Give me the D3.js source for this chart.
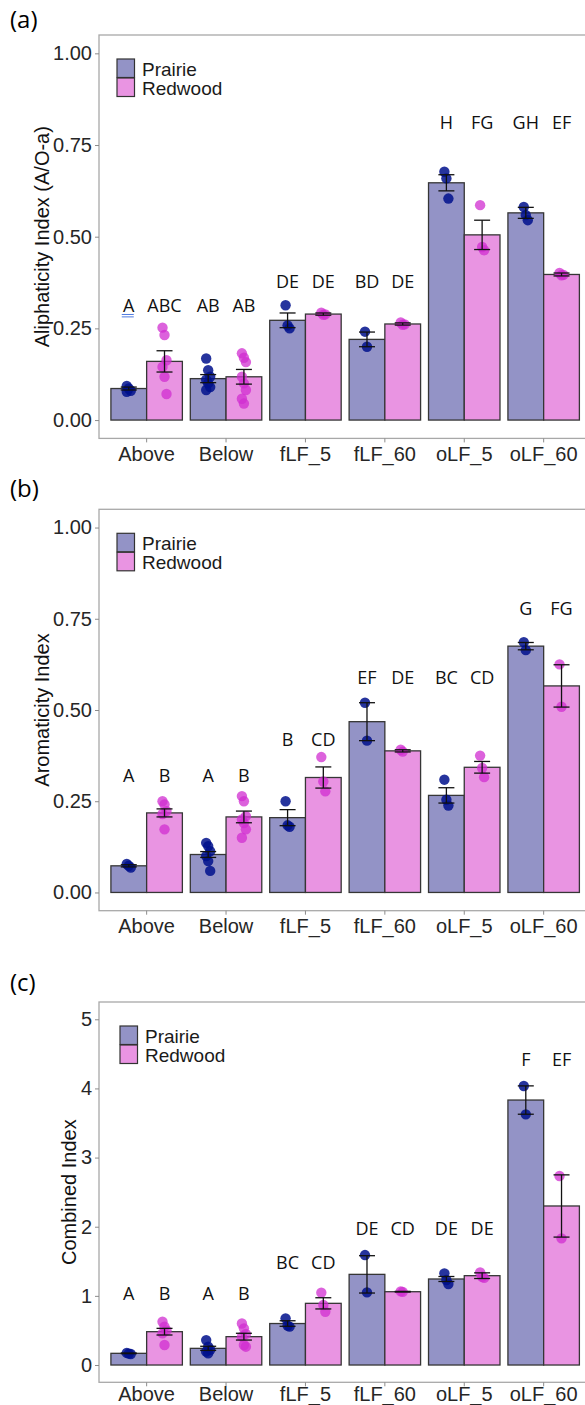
<!DOCTYPE html>
<html>
<head>
<meta charset="utf-8">
<script src="https://cdn.jsdelivr.net/npm/d3@7"></script>
<style>
  body { margin: 0; background: #fff; }
  svg { display: block; }
</style>
</head>
<body>
<svg id="chart" width="585" height="1405"></svg>
<script>

// ===========
// DATA
// ===========

const categories = ["Above", "Below", "fLF_5", "fLF_60", "oLF_5", "oLF_60"];
const groups = ["Prairie", "Redwood"];

// (a) Aliphaticity
const aliPrairieMean = [0.086, 0.113, 0.272, 0.220, 0.647, 0.565];
const aliPrairieSE   = [0.004, 0.011, 0.020, 0.020, 0.022, 0.015];
const aliRedwoodMean = [0.160, 0.118, 0.289, 0.262, 0.505, 0.397];
const aliRedwoodSE   = [0.029, 0.020, 0.003, 0.003, 0.040, 0.004];
const aliPrairiePts = [
  [0.093, 0.086, 0.080, 0.077],
  [0.168, 0.136, 0.118, 0.110, 0.100, 0.090, 0.082],
  [0.313, 0.258, 0.250],
  [0.241, 0.200],
  [0.677, 0.659, 0.604],
  [0.581, 0.559, 0.545]
];
const aliRedwoodPts = [
  [0.252, 0.232, 0.163, 0.145, 0.118, 0.071],
  [0.182, 0.170, 0.158, 0.118, 0.100, 0.082, 0.058, 0.045],
  [0.293, 0.287, 0.288],
  [0.266, 0.260, 0.261],
  [0.586, 0.472, 0.463],
  [0.401, 0.395, 0.396]
];
const aliLettersPrairie = ["A", "AB", "DE", "BD", "H", "GH"];
const aliLettersRedwood = ["ABC", "AB", "DE", "DE", "FG", "EF"];
const aliLetterY = [0.295, 0.295, 0.36, 0.36, 0.793, 0.793];

// (b) Aromaticity
const aroPrairieMean = [0.073, 0.104, 0.205, 0.468, 0.266, 0.675];
const aroPrairieSE   = [0.003, 0.008, 0.022, 0.052, 0.021, 0.010];
const aroRedwoodMean = [0.218, 0.207, 0.315, 0.388, 0.343, 0.566];
const aroRedwoodSE   = [0.011, 0.016, 0.029, 0.003, 0.016, 0.058];
const aroPrairiePts = [
  [0.078, 0.073, 0.068],
  [0.136, 0.127, 0.113, 0.100, 0.086, 0.059],
  [0.250, 0.184, 0.180],
  [0.520, 0.416],
  [0.309, 0.254, 0.238],
  [0.686, 0.664]
];
const aroRedwoodPts = [
  [0.250, 0.241, 0.223, 0.215, 0.173],
  [0.264, 0.250, 0.209, 0.200, 0.190, 0.173, 0.150],
  [0.371, 0.304, 0.277],
  [0.391, 0.386],
  [0.375, 0.341, 0.316],
  [0.625, 0.509]
];
const aroLettersPrairie = ["A", "A", "B", "EF", "BC", "G"];
const aroLettersRedwood = ["B", "B", "CD", "DE", "CD", "FG"];
const aroLetterY = [0.302, 0.302, 0.40, 0.571, 0.571, 0.759];

// (c) Combined
const comPrairieMean = [0.169, 0.241, 0.600, 1.311, 1.244, 3.832];
const comPrairieSE   = [0.005, 0.030, 0.040, 0.270, 0.036, 0.205];
const comRedwoodMean = [0.482, 0.410, 0.892, 1.060, 1.292, 2.300];
const comRedwoodSE   = [0.048, 0.049, 0.081, 0.005, 0.041, 0.450];
const comPrairiePts = [
  [0.175, 0.165, 0.160],
  [0.360, 0.265, 0.220, 0.193, 0.170],
  [0.675, 0.570, 0.555],
  [1.590, 1.051],
  [1.326, 1.229, 1.171],
  [4.035, 3.625]
];
const comRedwoodPts = [
  [0.626, 0.554, 0.500, 0.458, 0.289],
  [0.600, 0.530, 0.450, 0.410, 0.290, 0.265],
  [1.046, 0.868, 0.771],
  [1.065, 1.058],
  [1.340, 1.277, 1.260],
  [2.733, 1.832]
];
const comLettersPrairie = ["A", "A", "BC", "DE", "DE", "F"];
const comLettersRedwood = ["B", "B", "CD", "CD", "DE", "EF"];
const comLetterY = [0.94, 0.94, 1.384, 1.88, 1.88, 4.32];

const yTicksIndex = [0, 0.25, 0.5, 0.75, 1];
const yTicksCombined = [0, 1, 2, 3, 4, 5];

// ===========
// STYLE
// ===========

const barFill = { Prairie: "#9393c6", Redwood: "#e994e2" };
const ptFill = { Prairie: "#00108c", Redwood: "#d02ed0" };
const sansFont = "'Liberation Sans', Arial, sans-serif";
const labelFont = "'Open Sans', 'Noto Sans', sans-serif";

const svg = d3.select("#chart");

function drawPanel(p) {

  const g = svg.append("g");

  // scales
  const span = p.domain[1] - p.domain[0];
  const y = d3.scaleLinear()
    .domain([p.domain[0] - 0.05 * span, p.domain[1] + 0.05 * span])
    .range([p.bottom, p.top]);

  const x = d3.scaleBand()
    .domain(categories)
    .range([99, 591.3])
    .paddingInner(0.1)
    .paddingOuter(0.15);

  const xs = d3.scaleBand()
    .domain(groups)
    .range([0, x.bandwidth()]);

  // panel border
  g.append("rect")
    .attr("x", 99).attr("y", p.top)
    .attr("width", 492.3).attr("height", p.bottom - p.top)
    .attr("fill", "none")
    .attr("stroke", "#a8a8a8")
    .attr("stroke-width", 1.3);

  // y axis
  const yAxis = g.append("g")
    .attr("transform", "translate(99,0)")
    .call(d3.axisLeft(y).tickValues(p.ticks).tickFormat(p.fmt).tickSize(4).tickPadding(3));
  yAxis.select(".domain").remove();
  yAxis.selectAll("line").attr("stroke", "#8c8c8c");
  yAxis.selectAll("text")
    .attr("font-family", sansFont).attr("font-size", 20).attr("fill", "#262626");

  // x axis
  const xAxis = g.append("g")
    .attr("transform", "translate(0," + p.bottom + ")")
    .call(d3.axisBottom(x).tickSize(4).tickPadding(p.xPad));
  xAxis.select(".domain").remove();
  xAxis.selectAll("line").attr("stroke", "#8c8c8c");
  xAxis.selectAll("text")
    .attr("font-family", sansFont).attr("font-size", 20).attr("fill", "#262626");

  // build rows
  const rows = [];
  categories.forEach(function(c, i) {
    rows.push({ cat: c, grp: "Prairie", mean: p.prairieMean[i], se: p.prairieSE[i], pts: p.prairiePts[i], letter: p.lettersPrairie[i], ly: p.letterY[i] });
    rows.push({ cat: c, grp: "Redwood", mean: p.redwoodMean[i], se: p.redwoodSE[i], pts: p.redwoodPts[i], letter: p.lettersRedwood[i], ly: p.letterY[i] });
  });
  const cx = function(d) { return x(d.cat) + xs(d.grp) + xs.bandwidth() / 2; };

  // bars
  g.append("g").selectAll("rect")
    .data(rows)
    .enter()
    .append("rect")
      .attr("x", function(d) { return x(d.cat) + xs(d.grp); })
      .attr("y", function(d) { return y(d.mean); })
      .attr("width", xs.bandwidth())
      .attr("height", function(d) { return y(0) - y(d.mean); })
      .attr("fill", function(d) { return barFill[d.grp]; })
      .attr("stroke", "#363636")
      .attr("stroke-width", 1.3);

  // points
  rows.forEach(function(d) {
    g.append("g").selectAll("circle")
      .data(d.pts)
      .enter()
      .append("circle")
        .attr("cx", function(v, j) { return cx(d) + ((j % 3) - 1) * 2; })
        .attr("cy", function(v) { return y(v); })
        .attr("r", 5.2)
        .attr("fill", ptFill[d.grp])
        .attr("fill-opacity", d.grp === "Prairie" ? 0.85 : 0.75);
  });

  // error bars
  const eb = g.append("g").attr("stroke", "#111").attr("stroke-width", 1.3);
  rows.forEach(function(d) {
    const c = cx(d);
    eb.append("line").attr("x1", c).attr("x2", c).attr("y1", y(d.mean - d.se)).attr("y2", y(d.mean + d.se));
    eb.append("line").attr("x1", c - 8).attr("x2", c + 8).attr("y1", y(d.mean - d.se)).attr("y2", y(d.mean - d.se));
    eb.append("line").attr("x1", c - 8).attr("x2", c + 8).attr("y1", y(d.mean + d.se)).attr("y2", y(d.mean + d.se));
  });

  // significance letters
  g.append("g").selectAll("text")
    .data(rows)
    .enter()
    .append("text")
      .attr("x", cx)
      .attr("y", function(d) { return y(d.ly); })
      .attr("text-anchor", "middle")
      .attr("font-family", labelFont)
      .attr("font-size", 18)
      .attr("fill", "#111")
      .text(function(d) { return d.letter; });

  // spell-check style double underline under the first letter
  if (p.underline) {
    const d0 = rows[0];
    [2.6, 5].forEach(function(off) {
      g.append("line")
        .attr("x1", cx(d0) - 7).attr("x2", cx(d0) + 5)
        .attr("y1", y(d0.ly) + off).attr("y2", y(d0.ly) + off)
        .attr("stroke", "#4f7be0").attr("stroke-width", 1);
    });
  }

  // legend
  const lg = g.append("g").attr("transform", "translate(" + p.legendX + "," + (p.top + 24) + ")");
  groups.forEach(function(name, k) {
    lg.append("rect")
      .attr("x", 0).attr("y", k * 19)
      .attr("width", 17.5).attr("height", 18.5)
      .attr("fill", barFill[name])
      .attr("stroke", "#333")
      .attr("stroke-width", 1.2);
    lg.append("text")
      .attr("x", 25).attr("y", k * 19 + 16.5)
      .attr("font-family", sansFont).attr("font-size", 19).attr("fill", "#1a1a1a")
      .text(name);
  });

  // y title
  g.append("text")
    .attr("text-anchor", "middle")
    .attr("transform", "translate(" + p.titleX + "," + ((p.top + p.bottom) / 2) + ")rotate(-90)")
    .attr("font-family", sansFont).attr("font-size", 20).attr("fill", "#111")
    .text(p.title);

  // panel tag
  svg.append("text")
    .attr("x", 10).attr("y", p.tagY)
    .attr("font-family", labelFont).attr("font-size", 24).attr("fill", "#000")
    .text(p.tag);
}

drawPanel({
  tag: "(a)", tagY: 28, top: 35, bottom: 438.4, domain: [0, 1],
  ticks: yTicksIndex, fmt: d3.format(".2f"), xPad: 4,
  title: "Aliphaticity Index (A/O-a)", titleX: 49, legendX: 117,
  prairieMean: aliPrairieMean, prairieSE: aliPrairieSE, prairiePts: aliPrairiePts,
  redwoodMean: aliRedwoodMean, redwoodSE: aliRedwoodSE, redwoodPts: aliRedwoodPts,
  lettersPrairie: aliLettersPrairie, lettersRedwood: aliLettersRedwood, letterY: aliLetterY,
  underline: true
});

drawPanel({
  tag: "(b)", tagY: 497, top: 509.3, bottom: 910.7, domain: [0, 1],
  ticks: yTicksIndex, fmt: d3.format(".2f"), xPad: 4,
  title: "Aromaticity Index", titleX: 49, legendX: 117,
  prairieMean: aroPrairieMean, prairieSE: aroPrairieSE, prairiePts: aroPrairiePts,
  redwoodMean: aroRedwoodMean, redwoodSE: aroRedwoodSE, redwoodPts: aroRedwoodPts,
  lettersPrairie: aroLettersPrairie, lettersRedwood: aroLettersRedwood, letterY: aroLetterY
});

drawPanel({
  tag: "(c)", tagY: 991, top: 1002, bottom: 1382.3, domain: [0, 5],
  ticks: yTicksCombined, fmt: d3.format("d"), xPad: 1,
  title: "Combined Index", titleX: 76, legendX: 120,
  prairieMean: comPrairieMean, prairieSE: comPrairieSE, prairiePts: comPrairiePts,
  redwoodMean: comRedwoodMean, redwoodSE: comRedwoodSE, redwoodPts: comRedwoodPts,
  lettersPrairie: comLettersPrairie, lettersRedwood: comLettersRedwood, letterY: comLetterY
});

</script>
</body>
</html>
